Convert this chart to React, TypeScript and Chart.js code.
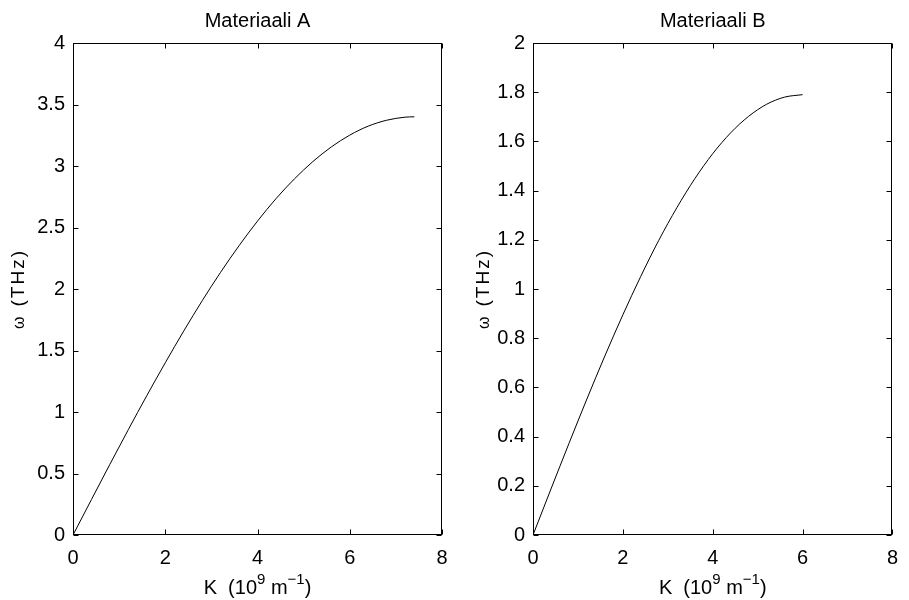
import React, { useEffect, useRef } from "react";
import { Chart, registerables } from "chart.js";

Chart.register(...registerables);

// ---------- data ----------
const kA = [0, 0.4, 0.8, 1.2, 1.6, 2.0, 2.4, 2.8, 3.2, 3.6, 4.0, 4.4, 4.8, 5.2, 5.6, 6.0, 6.4, 6.8, 7.2, 7.4];
const omegaA = [0, 0.288, 0.575, 0.857, 1.133, 1.4, 1.658, 1.904, 2.136, 2.352, 2.552, 2.734, 2.895, 3.036, 3.155, 3.251, 3.324, 3.372, 3.397, 3.4];

const kB = [0, 0.4, 0.8, 1.2, 1.6, 2.0, 2.4, 2.8, 3.2, 3.6, 4.0, 4.4, 4.8, 5.2, 5.6, 6.0];
const omegaB = [0, 0.187, 0.372, 0.553, 0.728, 0.895, 1.052, 1.198, 1.33, 1.448, 1.55, 1.635, 1.702, 1.751, 1.78, 1.79];

const xTickValues = [0, 2, 4, 6, 8];
const xTickLabels = ["0", "2", "4", "6", "8"];
const yTickValuesA = [0, 0.5, 1, 1.5, 2, 2.5, 3, 3.5, 4];
const yTickLabelsA = ["0", "0.5", "1", "1.5", "2", "2.5", "3", "3.5", "4"];
const yTickValuesB = [0, 0.2, 0.4, 0.6, 0.8, 1, 1.2, 1.4, 1.6, 1.8, 2];
const yTickLabelsB = ["0", "0.2", "0.4", "0.6", "0.8", "1", "1.2", "1.4", "1.6", "1.8", "2"];

const titleA = "Materiaali A";
const titleB = "Materiaali B";
const yAxisLabelSymbol = "ω";
const yAxisLabelUnit = "(THz)";
// x label pieces: [text, isSuperscript]
const xAxisLabelParts: [string, boolean][] = [
  ["K  (10", false],
  ["9", true],
  [" m", false],
  ["−1", true],
  [")", false],
];

const FONT = "'Liberation Sans', Arial, Helvetica, sans-serif";

type PanelCfg = {
  title: string;
  k: number[];
  w: number[];
  yMax: number;
  yVals: number[];
  yLabels: string[];
  padLeft: number;
  padRight: number;
  yLabelX: number;
};

const framePlugin = {
  id: "matlabFrame",
  afterDraw(chart: any, _args: any, opts: any) {
    const { ctx, chartArea } = chart;
    const { left, right, top, bottom } = chartArea;
    const xs = chart.scales.x;
    const ys = chart.scales.y;
    const L = Math.round(left) + 0.5;
    const R = Math.round(right) - 0.5;
    const T = Math.round(top) + 0.5;
    const B = Math.round(bottom) - 0.5;
    ctx.save();
    ctx.strokeStyle = "#000";
    ctx.lineWidth = 1;
    ctx.strokeRect(L, T, R - L, B - T);
    const tl = 5;
    ctx.beginPath();
    for (const v of xTickValues) {
      const px = Math.round(xs.getPixelForValue(v)) + 0.5;
      ctx.moveTo(px, B);
      ctx.lineTo(px, B - tl);
      ctx.moveTo(px, T);
      ctx.lineTo(px, T + tl);
    }
    for (const v of opts.yVals as number[]) {
      const py = Math.round(ys.getPixelForValue(v)) + 0.5;
      ctx.moveTo(L, py);
      ctx.lineTo(L + tl, py);
      ctx.moveTo(R, py);
      ctx.lineTo(R - tl, py);
    }
    ctx.stroke();

    ctx.fillStyle = "#000";
    // title
    ctx.font = `20px ${FONT}`;
    ctx.textAlign = "center";
    ctx.textBaseline = "alphabetic";
    ctx.fillText(opts.title, (left + right) / 2, 27);

    // x label with superscripts
    const mainFont = `20px ${FONT}`;
    const supFont = `15px ${FONT}`;
    let total = 0;
    const widths: number[] = [];
    for (const [t, sup] of xAxisLabelParts) {
      ctx.font = sup ? supFont : mainFont;
      const w = ctx.measureText(t).width;
      widths.push(w);
      total += w;
    }
    let x = (left + right) / 2 - total / 2;
    ctx.textAlign = "left";
    xAxisLabelParts.forEach(([t, sup], i) => {
      ctx.font = sup ? supFont : mainFont;
      ctx.fillText(t, x, sup ? 584 : 594);
      x += widths[i];
    });

    // y label (rotated)
    ctx.translate(opts.yLabelX, (top + bottom) / 2);
    ctx.rotate(-Math.PI / 2);
    ctx.textAlign = "left";
    ctx.font = `16px ${FONT}`;
    const wSym = ctx.measureText(yAxisLabelSymbol).width;
    ctx.font = `19px ${FONT}`;
    (ctx as any).letterSpacing = "2px";
    const wUnit = ctx.measureText(yAxisLabelUnit).width;
    const gap = 10;
    const tot = wSym + gap + wUnit;
    let sx = -tot / 2;
    ctx.font = `16px ${FONT}`;
    (ctx as any).letterSpacing = "0px";
    ctx.fillText(yAxisLabelSymbol, sx, 0);
    sx += wSym + gap;
    ctx.font = `19px ${FONT}`;
    (ctx as any).letterSpacing = "2px";
    ctx.fillText(yAxisLabelUnit, sx, 0);
    ctx.restore();
  },
};

function makeConfig(p: PanelCfg): any {
  return {
    type: "line",
    data: {
      datasets: [
        {
          data: p.k.map((k, i) => ({ x: k, y: p.w[i] })),
          borderColor: "#000",
          borderWidth: 1,
          pointRadius: 0,
          fill: false,
          cubicInterpolationMode: "monotone",
        },
      ],
    },
    options: {
      animation: false,
      responsive: false,
      events: [],
      layout: { padding: { left: p.padLeft, right: p.padRight, top: 43, bottom: 0 } },
      plugins: {
        legend: { display: false },
        title: { display: false },
        tooltip: { enabled: false },
        matlabFrame: { title: p.title, yVals: p.yVals, yLabelX: p.yLabelX },
      },
      scales: {
        x: {
          type: "linear",
          min: 0,
          max: 8,
          afterBuildTicks: (s: any) => {
            s.ticks = xTickValues.map((v) => ({ value: v }));
          },
          afterFit: (s: any) => {
            s.height = 65;
          },
          grid: { display: false, drawTicks: false, tickLength: 0 },
          border: { display: false },
          ticks: {
            padding: 11,
            color: "#000",
            maxRotation: 0,
            autoSkip: false,
            font: { family: FONT, size: 20 },
            callback: (v: number) => {
              const i = xTickValues.indexOf(v);
              return i >= 0 ? xTickLabels[i] : "";
            },
          },
        },
        y: {
          type: "linear",
          min: 0,
          max: p.yMax,
          afterBuildTicks: (s: any) => {
            s.ticks = p.yVals.map((v) => ({ value: v }));
          },
          afterFit: (s: any) => {
            s.width = 73;
          },
          grid: { display: false, drawTicks: false, tickLength: 0 },
          border: { display: false },
          ticks: {
            padding: 8,
            color: "#000",
            autoSkip: false,
            font: { family: FONT, size: 20 },
            callback: (v: number) => {
              const i = p.yVals.indexOf(v);
              return i >= 0 ? p.yLabels[i] : "";
            },
          },
        },
      },
    },
    plugins: [framePlugin],
  };
}

export default function App() {
  const refA = useRef<HTMLCanvasElement>(null);
  const refB = useRef<HTMLCanvasElement>(null);

  useEffect(() => {
    document.body.style.margin = "0";
    const a = new Chart(
      refA.current as HTMLCanvasElement,
      makeConfig({
        title: titleA,
        k: kA,
        w: omegaA,
        yMax: 4,
        yVals: yTickValuesA,
        yLabels: yTickLabelsA,
        padLeft: 0,
        padRight: 909 - 442,
        yLabelX: 24,
      })
    );
    const b = new Chart(
      refB.current as HTMLCanvasElement,
      makeConfig({
        title: titleB,
        k: kB,
        w: omegaB,
        yMax: 2,
        yVals: yTickValuesB,
        yLabels: yTickLabelsB,
        padLeft: 533 - 73,
        padRight: 909 - 902,
        yLabelX: 489,
      })
    );
    return () => {
      a.destroy();
      b.destroy();
    };
  }, []);

  return (
    <div style={{ position: "relative", width: 909, height: 600, background: "#fff" }}>
      <canvas ref={refA} width={909} height={600} style={{ position: "absolute", left: 0, top: 0 }} />
      <canvas ref={refB} width={909} height={600} style={{ position: "absolute", left: 0, top: 0 }} />
    </div>
  );
}
